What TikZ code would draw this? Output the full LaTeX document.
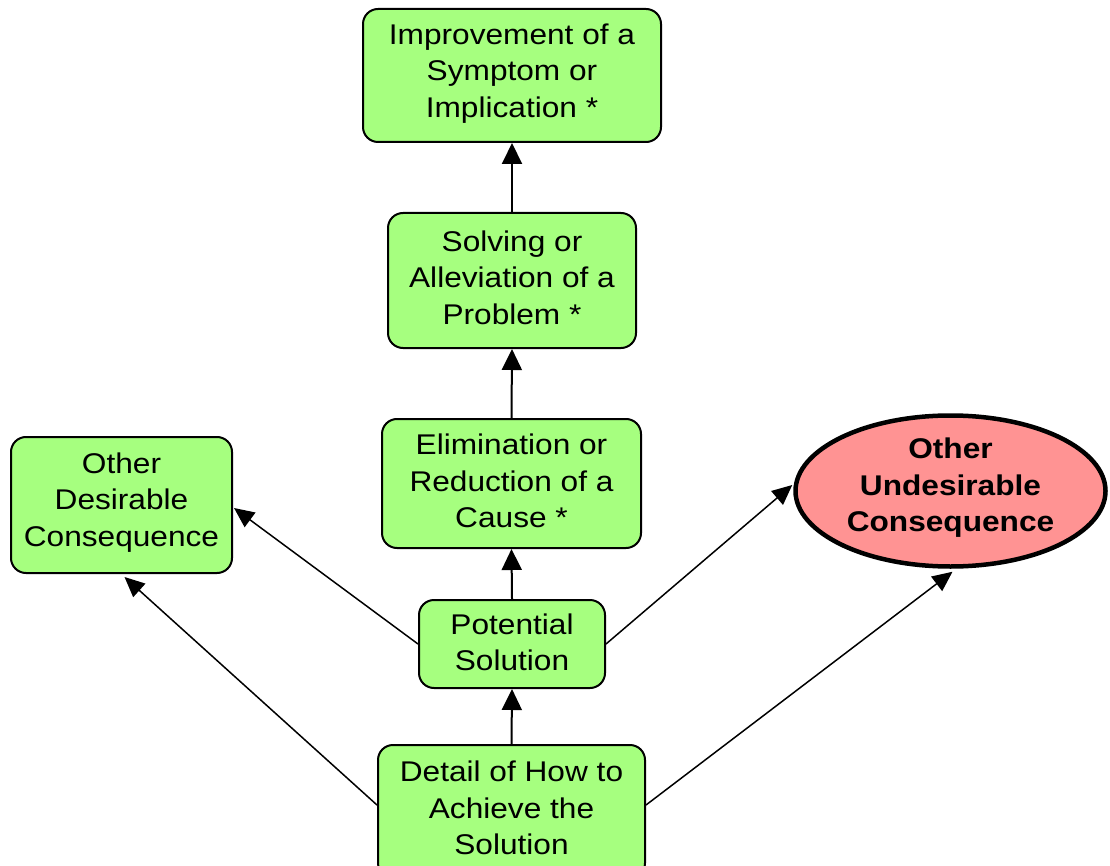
\documentclass[tikz,border=0pt]{standalone}
\usepackage{fontspec}
\setmainfont{Liberation Sans}[FakeStretch=1.11]
\usetikzlibrary{arrows.meta,shapes.geometric,calc}
\definecolor{boxgreen}{RGB}{166,255,127}
\definecolor{ellpink}{RGB}{255,147,147}
\tikzset{
  gbox/.style={draw=black, line width=2pt, fill=boxgreen, rounded corners=15pt,
    inner sep=0pt},
  pbell/.style={draw=black, line width=4.5pt, fill=ellpink, ellipse,
    inner sep=0pt},
  txt/.style={align=center, inner sep=0pt, font=\fontsize{28.5}{36.5}\selectfont},
  btxt/.style={txt, font=\fontsize{28.5}{36.5}\selectfont\bfseries},
  varrow/.style={line width=2pt, -{Triangle[length=21pt,width=20pt]}},
  darrow/.style={line width=1.5pt, -{Triangle[length=20pt,width=18pt]}}
}
\begin{document}
\begin{tikzpicture}[x=1pt,y=-1pt]
\useasboundingbox (0,0) rectangle (1110,866);
\node[gbox, minimum width=298pt, minimum height=133pt] (imp) at (512,75.5) {};
\node[txt] (impt) at ($(imp.center)+(0,-2)$) {Improvement of a\\Symptom or\\Implication *};
\node[gbox, minimum width=248pt, minimum height=135pt] (sol) at (512,280.5) {};
\node[txt] (solt) at ($(sol.center)+(0,-3)$) {Solving or\\Alleviation of a\\Problem *};
\node[gbox, minimum width=259pt, minimum height=129pt] (eli) at (511.5,483.5) {};
\node[txt] (elit) at ($(eli.center)+(0,-2.5)$) {Elimination or\\Reduction of a\\Cause *};
\node[gbox, minimum width=186pt, minimum height=88pt] (pot) at (512,644) {};
\node[txt] (pott) at ($(pot.center)+(0,-1.5)$) {Potential\\Solution};
\node[gbox, minimum width=267pt, minimum height=133pt] (det) at (511.5,811.5) {};
\node[txt] (dett) at ($(det.center)+(0,-3.5)$) {Detail of How to\\Achieve the\\Solution};
\node[gbox, minimum width=221pt, minimum height=136pt] (ode) at (121.5,505) {};
\node[txt] (odet) at ($(ode.center)+(0,-2.5)$) {Other\\Desirable\\Consequence};
\node[pbell, minimum width=310pt, minimum height=151pt] (und) at (950.5,491) {};
\node[btxt] (undt) at ($(und.center)+(0,-3)$) {Other\\Undesirable\\Consequence};
\draw[varrow] (det.north) -- (pot.south);
\draw[varrow] (pot.north) -- (eli.south);
\draw[varrow] (eli.north) -- (sol.south);
\draw[varrow] (sol.north) -- (imp.south);
\draw[darrow] (pot.west) -- ($(ode.east)+(1,3)$);
\draw[darrow] ($(det.west)+(0,-6.5)$) -- ($(ode.south)+(3,3)$);
\draw[darrow] (pot.east) -- ($(und.west)+(-1,-6)$);
\draw[darrow] ($(det.east)+(0,-6.5)$) -- ($(und.south)+(2,3)$);
\end{tikzpicture}
\end{document}
